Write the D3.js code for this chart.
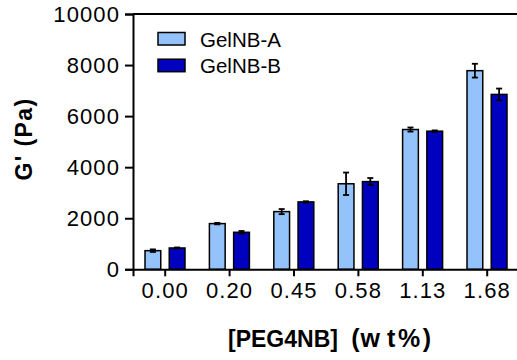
<!DOCTYPE html>
<html>
<head>
<meta charset="utf-8">
<script src="https://cdn.jsdelivr.net/npm/d3@7"></script>
<style>
  html, body { margin: 0; padding: 0; background: #fff; }
  svg { display: block; font-family: "Liberation Sans", Arial, sans-serif; }
</style>
</head>
<body>
<svg id="chart" width="517" height="360"></svg>
<script>
const categories = ["0.00", "0.20", "0.45", "0.58", "1.13", "1.68"];
const seriesNames = ["GelNB-A", "GelNB-B"];
const valuesA = [730, 1790, 2260, 3350, 5475, 7780];
const errorsA = [50, 30, 100, 440, 80, 270];
const valuesB = [835, 1450, 2640, 3435, 5410, 6850];
const errorsB = [20, 50, 25, 140, 30, 230];
const yTicks = [0, 2000, 4000, 6000, 8000, 10000];
const colors = ["#94c2fa", "#0000bf"];

const svg = d3.select("#chart");
const mLeft = 133, mRight = 519.4, mTop = 14, mBottom = 269.3;

const x = d3.scaleBand().domain(categories).range([mLeft, mRight]).padding(0);
const x1 = d3.scaleBand().domain(seriesNames).range([12, 52]).paddingInner(0.35);
const y = d3.scaleLinear().domain([0, 10000]).range([mBottom, mTop]);

const rows = [];
categories.forEach((c, i) => {
  rows.push({cat: c, s: seriesNames[0], v: valuesA[i], e: errorsA[i], col: colors[0]});
  rows.push({cat: c, s: seriesNames[1], v: valuesB[i], e: errorsB[i], col: colors[1]});
});

// bars
svg.append("g").selectAll("rect").data(rows).join("rect")
  .attr("x", d => x(d.cat) + x1(d.s))
  .attr("y", d => y(d.v))
  .attr("width", x1.bandwidth())
  .attr("height", d => y(0) - y(d.v))
  .attr("fill", d => d.col)
  .attr("stroke", "#000")
  .attr("stroke-width", 1.5);

// error bars
const eb = svg.append("g").attr("stroke", "#000").attr("stroke-width", 1.8);
rows.forEach(d => {
  const cx = x(d.cat) + x1(d.s) + x1.bandwidth() / 2;
  const y1 = y(d.v + d.e), y2 = y(d.v - d.e);
  eb.append("line").attr("x1", cx).attr("x2", cx).attr("y1", y1).attr("y2", y2);
  eb.append("line").attr("x1", cx - 3).attr("x2", cx + 3).attr("y1", y1).attr("y2", y1);
  eb.append("line").attr("x1", cx - 3).attr("x2", cx + 3).attr("y1", y2).attr("y2", y2);
});

// y axis
const yAxis = svg.append("g").attr("transform", `translate(${mLeft},0)`)
  .call(d3.axisLeft(y).tickValues(yTicks).tickFormat(d3.format("d")).tickSizeOuter(0).tickSize(8).tickPadding(5));
yAxis.select(".domain").attr("stroke-width", 2);
yAxis.selectAll(".tick line").attr("stroke-width", 2);
yAxis.selectAll("text").attr("font-size", 22).attr("fill", "#000")
  .attr("font-family", "Liberation Sans, Arial, sans-serif").style("letter-spacing", "1.1px");

// x axis
const xAxis = svg.append("g").attr("transform", `translate(0,${mBottom})`)
  .call(d3.axisBottom(x).tickSizeOuter(0).tickSize(7).tickPadding(6));
xAxis.select(".domain").attr("stroke-width", 2);
xAxis.selectAll(".tick line").attr("stroke-width", 2);
xAxis.selectAll("text").attr("font-size", 22).attr("fill", "#000")
  .attr("font-family", "Liberation Sans, Arial, sans-serif").style("letter-spacing", "1.1px");

// top frame line
svg.append("line").attr("x1", mLeft).attr("x2", mRight).attr("y1", y(10000)).attr("y2", y(10000))
  .attr("stroke", "#000").attr("stroke-width", 2);

// legend
const leg = svg.append("g");
seriesNames.forEach((s, i) => {
  const yy = 32.5 + i * 26.7;
  leg.append("rect").attr("x", 158).attr("y", yy).attr("width", 27).attr("height", 12.5)
    .attr("fill", colors[i]).attr("stroke", "#000").attr("stroke-width", 1.5);
  leg.append("text").attr("x", 200).attr("y", yy + 14).attr("font-size", 20.5).attr("fill", "#000").text(s);
});

// axis titles
const xt = svg.append("text").attr("x", 228).attr("y", 347).attr("text-anchor", "start")
  .attr("font-size", 23).attr("font-weight", "bold");
xt.append("tspan").text("[PEG4NB] ");
xt.append("tspan").attr("dx", 7).attr("font-size", 25).style("letter-spacing", "1px").text("(w");
xt.append("tspan").attr("dx", 6).attr("font-size", 25).style("letter-spacing", "2.5px").text("t%)");

svg.append("text").attr("transform", "translate(32,139) rotate(-90)").attr("text-anchor", "middle")
  .attr("font-size", 23).attr("font-weight", "bold").style("letter-spacing", "1.4px")
  .text("G' (Pa)");
</script>
</body>
</html>
